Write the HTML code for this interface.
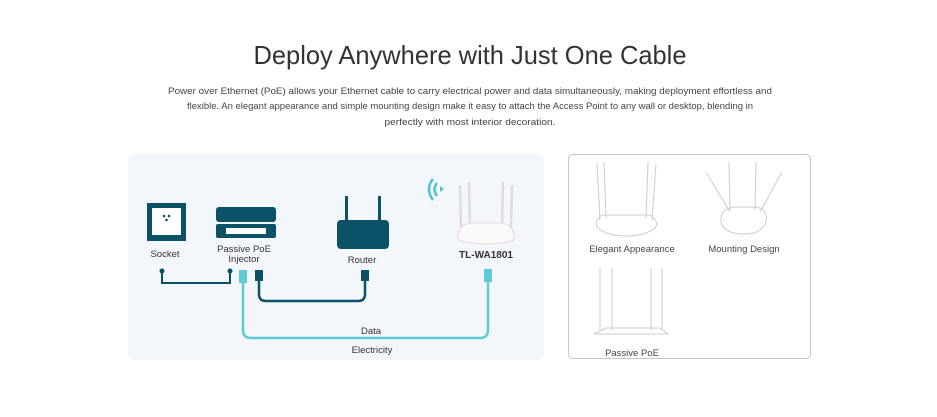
<!DOCTYPE html>
<html><head><meta charset="utf-8"><style>
html,body{margin:0;padding:0;background:#fff;width:937px;height:417px;overflow:hidden}
svg{display:block;font-family:"Liberation Sans",sans-serif}
</style></head><body>
<svg width="937" height="417" viewBox="0 0 937 417">
<text x="470" y="64" text-anchor="middle" font-size="26" fill="#333" textLength="433" lengthAdjust="spacingAndGlyphs">Deploy Anywhere with Just One Cable</text>
<g font-size="9.5" fill="#444" text-anchor="middle">
<text x="470" y="94" textLength="604" lengthAdjust="spacingAndGlyphs">Power over Ethernet (PoE) allows your Ethernet cable to carry electrical power and data simultaneously, making deployment effortless and</text>
<text x="470" y="109" textLength="566" lengthAdjust="spacingAndGlyphs">flexible. An elegant appearance and simple mounting design make it easy to attach the Access Point to any wall or desktop, blending in</text>
<text x="470" y="125" textLength="171" lengthAdjust="spacingAndGlyphs">perfectly with most interior decoration.</text>
</g>
<rect x="128" y="154" width="416" height="206" rx="6" fill="#f3f6fa"/>
<rect x="568.5" y="154.5" width="242" height="204" rx="4" fill="#fff" stroke="#c8c8c8"/>
<!-- socket -->
<rect x="147" y="203" width="39" height="38" fill="#0b5266"/>
<rect x="152" y="208" width="29" height="27" fill="#fff"/>
<circle cx="164" cy="216" r="1.3" fill="#0b5266"/><circle cx="169" cy="216" r="1.3" fill="#0b5266"/><circle cx="166.5" cy="220" r="1.3" fill="#0b5266"/>
<!-- injector -->
<rect x="216" y="207" width="60" height="15" rx="3" fill="#0b5266"/>
<rect x="216" y="224" width="60" height="14" rx="2" fill="#0b5266"/>
<rect x="226" y="228" width="40" height="6" fill="#fff"/>
<!-- router -->
<rect x="345" y="196" width="3" height="26" fill="#0b5266"/>
<rect x="378" y="196" width="3" height="26" fill="#0b5266"/>
<rect x="337" y="220" width="52" height="29" rx="4" fill="#0b5266"/>
<!-- AP -->
<g stroke="#ddd" stroke-width="2.5" stroke-linecap="round">
<line x1="460" y1="186" x2="461" y2="226"/><line x1="469" y1="183" x2="470" y2="225"/>
<line x1="503" y1="183" x2="502" y2="225"/><line x1="512" y1="186" x2="511" y2="226"/>
</g>
<path d="M458 240 Q456 226 470 223 L502 223 Q516 226 514 240 Q486 248 458 240Z" fill="#fafafa" stroke="#ddd"/>
<path d="M433 179 Q425 189 433 200 M437 183 Q432 189 437 196" stroke="#4ec4d2" stroke-width="2.5" fill="none"/>
<path d="M440 186 l4 3 l-4 3z" fill="#4ec4d2"/>
<!-- labels -->
<g font-size="9.5" fill="#333" text-anchor="middle">
<text x="165" y="257">Socket</text>
<text x="244" y="252">Passive PoE</text>
<text x="244" y="262">Injector</text>
<text x="362" y="263">Router</text>
<text x="486" y="258" font-weight="bold" font-size="10">TL-WA1801</text>
<text x="371" y="334">Data</text>
<text x="372" y="353">Electricity</text>
</g>
<!-- wires -->
<path d="M162 271 V283 H230 V271" stroke="#0b5266" stroke-width="2" fill="none"/>
<circle cx="162" cy="271" r="2.5" fill="#0b5266"/><circle cx="230" cy="271" r="2.5" fill="#0b5266"/>
<path d="M259 280 V294 Q259 301 266 301 H358 Q365 301 365 294 V280" stroke="#0b5266" stroke-width="2.5" fill="none"/>
<rect x="255" y="270" width="8" height="11" fill="#0b5266"/>
<rect x="361" y="270" width="8" height="11" fill="#0b5266"/>
<path d="M243 282 V330 Q243 338 251 338 H480 Q488 338 488 330 V282" stroke="#5ecad6" stroke-width="2.5" fill="none"/>
<rect x="239" y="270" width="8" height="13" fill="#5ecad6"/>
<rect x="484" y="269" width="8" height="13" fill="#5ecad6"/>
<!-- right panel sketches -->
<g stroke="#ccc" fill="none" stroke-width="1">
<path d="M597 163 L600 220 M604 162 L606 218 M648 162 L646 218 M656 164 L652 220"/>
<path d="M598 228 Q593 222 602 215 L650 215 Q660 222 655 228 Q645 236 627 236 Q607 236 598 228Z"/>
<path d="M706 172 L730 212 M729 162 L730 210 M756 162 L755 210 M782 172 L760 212"/>
<path d="M721 222 Q720 208 735 207 L755 207 Q768 208 766 222 Q762 234 744 234 Q724 234 721 222Z"/>
<path d="M600 268 L600 330 M612 268 L612 330 M651 268 L651 330 M662 268 L662 330"/>
<path d="M594 334 L606 328 L660 328 L668 334 Z"/>
</g>
<g font-size="9.5" fill="#444" text-anchor="middle">
<text x="632" y="252">Elegant Appearance</text>
<text x="744" y="252">Mounting Design</text>
<text x="632" y="356">Passive PoE</text>
</g>
</svg>
</body></html>
